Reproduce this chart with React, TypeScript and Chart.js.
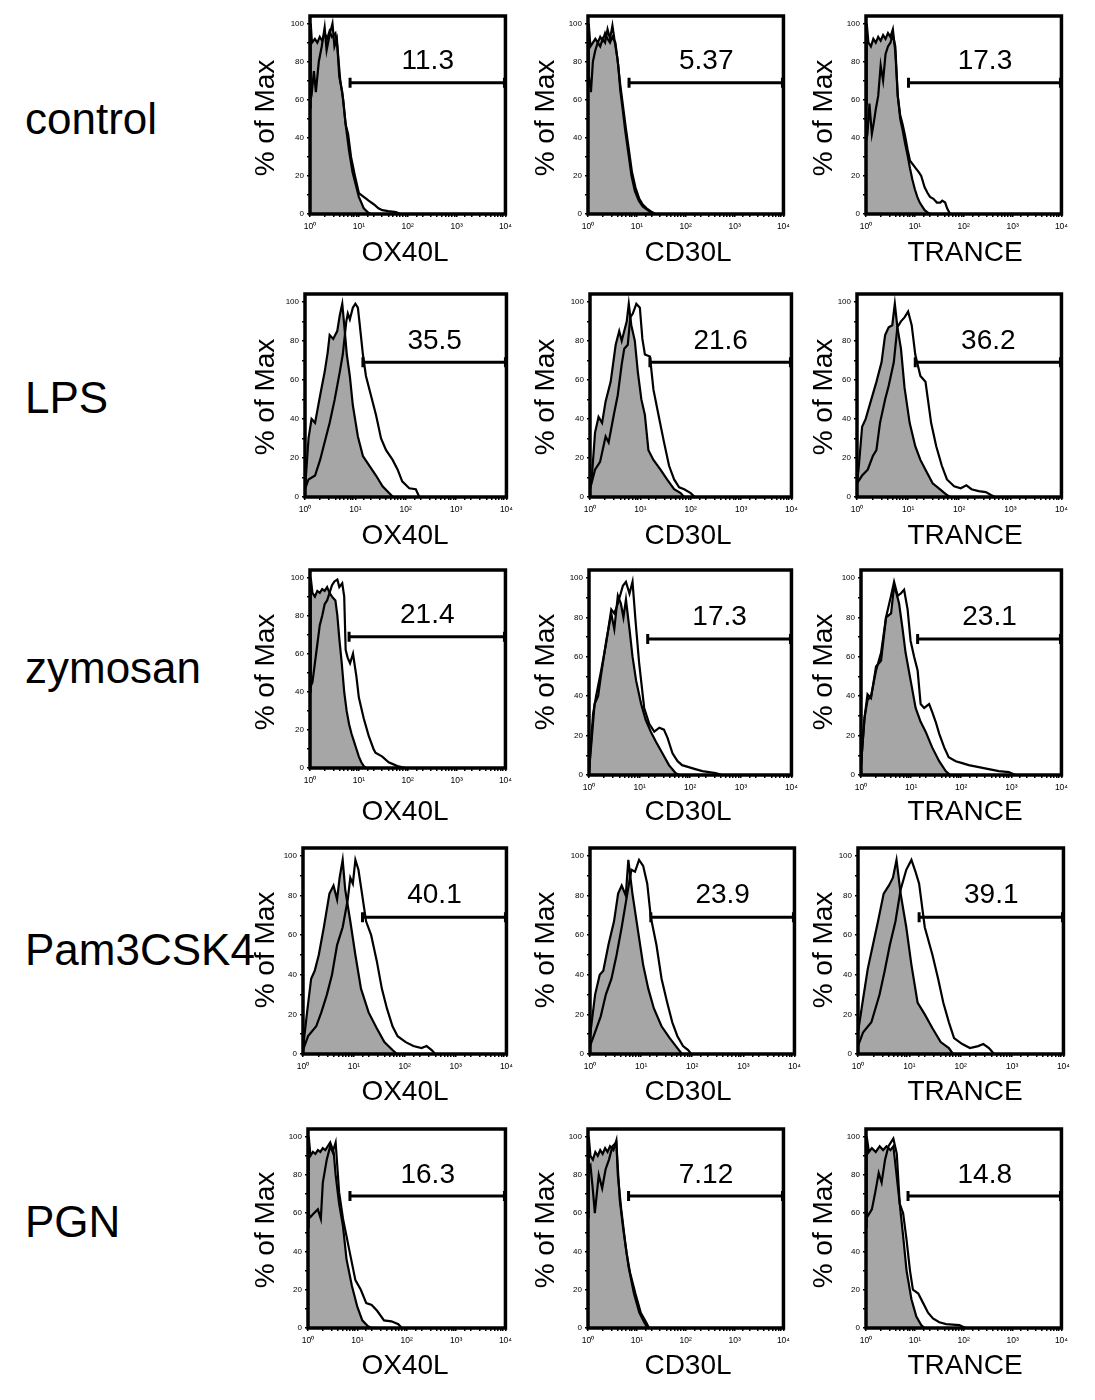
import React, { useEffect, useRef } from 'react';
import { Chart, registerables } from 'chart.js';

Chart.register(...registerables);

// ---------- labels ----------
const ROW_LABELS = ['control', 'LPS', 'zymosan', 'Pam3CSK4', 'PGN'];
const MARKERS = ['OX40L', 'CD30L', 'TRANCE'];
const Y_AXIS_TITLE = '% of Max';
const X_TICK_LABELS: Record<number, string> = { 1: '10⁰', 10: '10¹', 100: '10²', 1000: '10³', 10000: '10⁴' };

// gate: % positive (label) and left edge of the gate (log10 of intensity)
const GATE_LABELS = [
  ['11.3', '5.37', '17.3'],
  ['35.5', '21.6', '36.2'],
  ['21.4', '17.3', '23.1'],
  ['40.1', '23.9', '39.1'],
  ['16.3', '7.12', '14.8'],
];
const GATE_START_LOG = [
  [0.82, 0.84, 0.87],
  [1.15, 1.19, 1.14],
  [0.8, 1.16, 1.13],
  [1.17, 1.19, 1.19],
  [0.85, 0.83, 0.86],
];
const GATE_LEVEL = 69; // % of max
const GATE_TEXT_LEVEL = 80;

// ---------- histograms: [log10(intensity), % of max] ----------
// control
const CONTROL_OX40L_ISO = [[0,56],[0.015,100],[0.04,90],[0.1,92],[0.15,90],[0.2,93],[0.25,91],[0.3,95],[0.35,92],[0.4,96],[0.45,93],[0.52,95],[0.56,88],[0.62,70],[0.68,60],[0.73,47],[0.8,33],[0.87,22],[0.94,15],[1.0,9],[1.1,3],[1.2,0.5],[1.25,0]];
const CONTROL_OX40L_SMP = [[0,60],[0.03,62],[0.08,75],[0.12,64],[0.18,80],[0.24,88],[0.3,98],[0.34,86],[0.4,94],[0.46,100],[0.5,88],[0.55,92],[0.6,72],[0.66,64],[0.73,47],[0.78,42],[0.84,30],[0.92,20],[1.0,11],[1.1,9],[1.2,7],[1.31,5],[1.4,3],[1.48,2],[1.6,1.5],[1.76,1],[1.85,0]];
const CONTROL_CD30L_ISO = [[0,68],[0.015,100],[0.05,88],[0.1,90],[0.15,92],[0.2,90],[0.25,93],[0.3,91],[0.35,95],[0.4,92],[0.45,90],[0.5,93],[0.56,90],[0.62,78],[0.66,65],[0.71,55],[0.76,44],[0.82,33],[0.89,20],[0.96,12],[1.04,7],[1.12,4],[1.25,1.5],[1.32,0]];
const CONTROL_CD30L_SMP = [[0,68],[0.02,72],[0.06,64],[0.1,80],[0.15,86],[0.2,90],[0.25,88],[0.3,92],[0.35,90],[0.4,97],[0.45,92],[0.5,99],[0.55,90],[0.6,82],[0.66,68],[0.71,58],[0.77,46],[0.83,35],[0.9,22],[0.97,14],[1.05,8],[1.12,5],[1.2,3],[1.28,1.5],[1.38,0]];
const CONTROL_TRANCE_ISO = [[0,58],[0.015,100],[0.05,90],[0.1,88],[0.15,92],[0.2,90],[0.25,93],[0.3,91],[0.35,94],[0.4,92],[0.45,95],[0.5,93],[0.55,97],[0.6,85],[0.65,62],[0.7,50],[0.75,44],[0.8,37],[0.85,31],[0.9,24],[0.95,18],[1.0,13],[1.05,9],[1.1,6],[1.15,4],[1.2,2],[1.28,0.5],[1.32,0]];
const CONTROL_TRANCE_SMP = [[0,38],[0.03,42],[0.07,58],[0.12,42],[0.16,48],[0.2,55],[0.25,62],[0.3,78],[0.35,70],[0.4,84],[0.45,88],[0.5,90],[0.55,94],[0.6,88],[0.65,62],[0.7,52],[0.75,47],[0.8,41],[0.85,34],[0.9,28],[0.96,26],[1.02,24],[1.08,22],[1.13,20],[1.2,14],[1.26,11],[1.31,9],[1.38,8],[1.45,6],[1.52,6],[1.56,7],[1.62,6],[1.66,3],[1.72,0]];
// LPS
const LPS_OX40L_ISO = [[0,4],[0.03,15],[0.07,30],[0.13,40],[0.2,38],[0.25,45],[0.3,52],[0.39,64],[0.45,74],[0.49,83],[0.56,81],[0.64,85],[0.69,93],[0.74,99],[0.79,85],[0.83,73],[0.89,62],[0.95,47],[1.0,39],[1.05,31],[1.15,21],[1.28,16],[1.41,11],[1.54,5.5],[1.67,2],[1.75,0]];
const LPS_OX40L_SMP = [[0,4],[0.07,9],[0.2,11],[0.3,19],[0.39,28],[0.49,38],[0.59,50],[0.69,64],[0.75,73],[0.82,90],[0.85,94],[0.89,91],[0.95,97],[1.0,99],[1.05,97],[1.08,90],[1.15,73],[1.21,62],[1.31,52],[1.41,42],[1.51,30],[1.61,24],[1.74,19],[1.84,14],[1.93,8],[2.07,4.5],[2.2,4],[2.27,0]];
const LPS_CD30L_ISO = [[0,5],[0.03,8],[0.1,33],[0.17,41],[0.24,38],[0.31,49],[0.41,59],[0.51,78],[0.58,85],[0.63,80],[0.68,85],[0.73,90],[0.77,99],[0.82,88],[0.89,80],[0.95,64],[1.02,50],[1.09,42],[1.16,24],[1.26,19],[1.4,14],[1.53,9],[1.67,4],[1.8,2],[1.87,0]];
const LPS_CD30L_SMP = [[0,4],[0.1,14],[0.2,18],[0.31,31],[0.37,28],[0.48,43],[0.55,52],[0.63,68],[0.68,76],[0.75,78],[0.8,92],[0.85,94],[0.92,99],[0.99,97],[1.04,81],[1.09,73],[1.19,72],[1.26,55],[1.36,42],[1.47,28],[1.57,16],[1.67,9],[1.77,5],[1.87,4],[2.0,2],[2.08,0]];
const LPS_TRANCE_ISO = [[0,8],[0.03,14],[0.1,36],[0.17,40],[0.28,50],[0.38,59],[0.48,69],[0.55,83],[0.62,87],[0.69,88],[0.74,99],[0.79,87],[0.86,76],[0.93,56],[1.03,38],[1.14,26],[1.24,19],[1.34,14],[1.48,7],[1.62,4],[1.76,1],[1.82,0]];
const LPS_TRANCE_SMP = [[0,7],[0.1,11],[0.21,14],[0.31,21],[0.38,24],[0.45,38],[0.55,50],[0.62,57],[0.72,69],[0.79,87],[0.86,90],[0.93,92],[1.0,95],[1.07,88],[1.14,73],[1.24,62],[1.34,59],[1.45,38],[1.55,26],[1.66,16],[1.76,9],[1.9,5.5],[2.03,4.5],[2.14,6],[2.24,4],[2.38,3],[2.52,2.5],[2.62,1],[2.7,0]];
// zymosan
const ZYM_OX40L_ISO = [[0,40],[0.015,100],[0.05,92],[0.1,90],[0.15,93],[0.2,92],[0.25,94],[0.3,93],[0.35,95],[0.4,92],[0.45,90],[0.52,88],[0.56,80],[0.6,68],[0.65,55],[0.7,40],[0.75,30],[0.8,23],[0.85,18],[0.9,14],[0.95,10],[1.0,6],[1.05,3],[1.1,1],[1.15,0]];
const ZYM_OX40L_SMP = [[0,42],[0.05,45],[0.1,55],[0.15,65],[0.2,75],[0.25,80],[0.3,86],[0.35,88],[0.4,92],[0.45,96],[0.5,98],[0.56,99],[0.6,95],[0.66,97],[0.7,90],[0.73,62],[0.77,58],[0.82,55],[0.88,60],[0.95,48],[1.0,37],[1.1,26],[1.2,17],[1.3,10],[1.34,8],[1.48,6],[1.61,3],[1.79,1],[1.96,0]];
const ZYM_CD30L_ISO = [[0,2],[0.05,17],[0.11,36],[0.18,40],[0.24,51],[0.34,68],[0.44,82],[0.5,74],[0.57,91],[0.63,87],[0.68,80],[0.73,89],[0.8,74],[0.86,60],[0.93,48],[1.03,36],[1.12,28],[1.22,22],[1.32,17],[1.45,11],[1.58,5],[1.71,1],[1.78,0]];
const ZYM_CD30L_SMP = [[0,2],[0.08,31],[0.14,40],[0.24,53],[0.34,67],[0.44,84],[0.5,82],[0.57,87],[0.67,96],[0.73,98],[0.8,92],[0.86,98],[0.92,78],[0.99,57],[1.09,34],[1.19,26],[1.29,22],[1.39,24],[1.48,23],[1.55,19],[1.65,11],[1.75,7],[1.84,5],[1.97,4],[2.1,3],[2.24,2],[2.37,1.5],[2.5,1],[2.63,0]];
const ZYM_TRANCE_ISO = [[0,5],[0.07,29],[0.13,41],[0.2,39],[0.3,55],[0.4,58],[0.5,80],[0.6,82],[0.66,96],[0.71,92],[0.76,87],[0.83,74],[0.89,62],[0.99,48],[1.09,34],[1.19,27],[1.29,22],[1.42,14],[1.56,7],[1.69,2],[1.78,0]];
const ZYM_TRANCE_SMP = [[0,5],[0.07,29],[0.13,38],[0.2,40],[0.3,53],[0.4,62],[0.5,80],[0.6,91],[0.66,98],[0.73,91],[0.79,92],[0.86,94],[0.93,84],[0.99,68],[1.06,60],[1.13,53],[1.19,36],[1.26,34],[1.36,36],[1.42,32],[1.49,27],[1.56,21],[1.66,14],[1.75,9],[1.89,7],[2.02,6],[2.15,5],[2.35,4],[2.55,3],[2.75,2],[2.95,1.5],[3.08,0]];
// Pam3CSK4
const PAM_OX40L_ISO = [[0,3],[0.08,21],[0.16,38],[0.23,42],[0.31,50],[0.41,64],[0.52,81],[0.6,85],[0.67,78],[0.72,89],[0.78,98],[0.83,83],[0.93,67],[1.03,50],[1.14,33],[1.29,21],[1.45,13],[1.6,6],[1.76,2],[1.85,0]];
const PAM_OX40L_SMP = [[0,2],[0.1,9],[0.26,14],[0.36,21],[0.47,30],[0.57,40],[0.67,55],[0.78,64],[0.88,78],[0.93,89],[0.98,86],[1.03,98],[1.09,93],[1.16,81],[1.24,67],[1.34,60],[1.45,47],[1.55,33],[1.65,23],[1.76,14],[1.86,9],[2.02,6],[2.17,4],[2.33,3],[2.43,4],[2.53,2],[2.6,0]];
const PAM_CD30L_ISO = [[0,9],[0.1,30],[0.19,40],[0.26,42],[0.36,55],[0.47,67],[0.55,81],[0.62,85],[0.7,80],[0.75,98],[0.83,81],[0.94,62],[1.04,45],[1.14,33],[1.25,23],[1.4,14],[1.56,8],[1.71,3],[1.8,0]];
const PAM_CD30L_SMP = [[0,4],[0.1,11],[0.21,19],[0.31,30],[0.42,38],[0.52,50],[0.62,64],[0.73,81],[0.81,93],[0.88,92],[0.96,98],[1.04,95],[1.12,86],[1.19,69],[1.3,55],[1.4,38],[1.51,26],[1.61,16],[1.71,9],[1.82,4],[1.92,2],[1.98,0]];
const PAM_TRANCE_ISO = [[0,11],[0.1,28],[0.19,43],[0.29,55],[0.39,67],[0.5,81],[0.6,85],[0.68,89],[0.75,98],[0.83,81],[0.94,64],[1.04,45],[1.16,26],[1.3,20],[1.45,13],[1.61,6],[1.77,3],[1.85,0]];
const PAM_TRANCE_SMP = [[0,4],[0.1,11],[0.26,16],[0.42,30],[0.52,42],[0.62,55],[0.73,67],[0.83,83],[0.94,93],[1.04,98],[1.12,92],[1.19,86],[1.3,64],[1.45,50],[1.56,38],[1.66,26],[1.77,16],[1.87,8],[2.03,5],[2.18,3],[2.34,4],[2.44,5],[2.55,3],[2.65,0]];
// PGN
const PGN_OX40L_ISO = [[0,53],[0.015,100],[0.05,90],[0.1,92],[0.15,91],[0.2,93],[0.25,92],[0.3,94],[0.35,93],[0.45,97],[0.52,92],[0.56,80],[0.63,65],[0.71,53],[0.78,36],[0.89,22],[1.0,11],[1.1,4],[1.21,1],[1.28,0]];
const PGN_OX40L_SMP = [[0,60],[0.05,58],[0.12,60],[0.2,62],[0.26,57],[0.3,76],[0.38,88],[0.45,95],[0.5,92],[0.56,97],[0.63,71],[0.71,57],[0.78,48],[0.85,39],[0.96,25],[1.07,20],[1.18,13],[1.29,12],[1.4,9],[1.54,4],[1.69,3.5],[1.83,2],[1.9,0]];
const PGN_CD30L_ISO = [[0,58],[0.015,100],[0.05,90],[0.1,88],[0.15,92],[0.2,90],[0.25,93],[0.3,91],[0.35,94],[0.4,92],[0.45,95],[0.52,93],[0.58,98],[0.61,80],[0.68,62],[0.76,45],[0.83,32],[0.94,18],[1.05,8],[1.15,3],[1.22,0]];
const PGN_CD30L_SMP = [[0,83],[0.05,85],[0.1,72],[0.14,60],[0.22,80],[0.29,73],[0.36,83],[0.43,88],[0.5,95],[0.58,97],[0.65,67],[0.72,52],[0.79,39],[0.86,29],[0.97,18],[1.08,8],[1.19,3],[1.25,0]];
const PGN_TRANCE_ISO = [[0,53],[0.015,100],[0.06,92],[0.12,94],[0.2,92],[0.28,95],[0.35,93],[0.42,95],[0.5,93],[0.56,95],[0.63,79],[0.69,65],[0.76,48],[0.83,30],[0.93,15],[1.03,6],[1.13,1.5],[1.2,0]];
const PGN_TRANCE_SMP = [[0,57],[0.12,62],[0.19,71],[0.26,81],[0.32,76],[0.39,88],[0.46,95],[0.56,99],[0.63,91],[0.69,65],[0.76,60],[0.83,46],[0.9,30],[0.96,20],[1.07,18],[1.17,13],[1.27,8],[1.37,5],[1.5,3],[1.64,2],[1.91,1.5],[2.04,0]];

const ISOTYPE = [
  [CONTROL_OX40L_ISO, CONTROL_CD30L_ISO, CONTROL_TRANCE_ISO],
  [LPS_OX40L_ISO, LPS_CD30L_ISO, LPS_TRANCE_ISO],
  [ZYM_OX40L_ISO, ZYM_CD30L_ISO, ZYM_TRANCE_ISO],
  [PAM_OX40L_ISO, PAM_CD30L_ISO, PAM_TRANCE_ISO],
  [PGN_OX40L_ISO, PGN_CD30L_ISO, PGN_TRANCE_ISO],
];
const SAMPLE = [
  [CONTROL_OX40L_SMP, CONTROL_CD30L_SMP, CONTROL_TRANCE_SMP],
  [LPS_OX40L_SMP, LPS_CD30L_SMP, LPS_TRANCE_SMP],
  [ZYM_OX40L_SMP, ZYM_CD30L_SMP, ZYM_TRANCE_SMP],
  [PAM_OX40L_SMP, PAM_CD30L_SMP, PAM_TRANCE_SMP],
  [PGN_OX40L_SMP, PGN_CD30L_SMP, PGN_TRANCE_SMP],
];

// ---------- layout (pixels) ----------
// plot box per panel: [left, top, right, bottom]
const PANEL_BOXES = [
  [[310, 16, 507, 214], [588, 16, 785, 214], [866, 16, 1063, 214]],
  [[305, 294, 508, 497], [590, 294, 793, 497], [857, 294, 1063, 497]],
  [[310, 570, 507, 768], [589, 570, 793, 775], [861, 570, 1063, 775]],
  [[303, 848, 508, 1054], [590, 848, 796, 1054], [858, 848, 1065, 1054]],
  [[308, 1129, 507, 1328], [588, 1129, 785, 1328], [866, 1129, 1063, 1328]],
];
const ROW_LABEL_BASELINE = [134, 413, 683, 965, 1237];
const Y_TITLE_X = [265, 545, 823];
const Y_TITLE_Y = [118, 397, 672, 950, 1230];
const X_TITLE_X = [405, 688, 965];
const X_TITLE_Y = [252, 535, 811, 1091, 1365];

const FONT = '"Liberation Sans", Arial, sans-serif';
const PAD_L = 70, PAD_T = 10, PAD_R = 10, PAD_B = 55;
const Y_MAX = 104;
const ROW_FONT = 44;

const panelPlugin = {
  id: 'panelDecor',
  afterDatasetsDraw(chart: any, _args: any, opts: any) {
    const { ctx, chartArea, scales } = chart;
    const { left, top, right, bottom } = chartArea;
    ctx.save();
    // gate
    const gx = scales.x.getPixelForValue(Math.pow(10, opts.gateLog));
    const gy = scales.y.getPixelForValue(GATE_LEVEL);
    ctx.strokeStyle = '#000';
    ctx.lineWidth = 3;
    ctx.beginPath();
    ctx.moveTo(gx, gy);
    ctx.lineTo(right, gy);
    ctx.stroke();
    ctx.beginPath();
    ctx.moveTo(gx, gy - 5);
    ctx.lineTo(gx, gy + 5);
    ctx.moveTo(right - 1, gy - 5);
    ctx.lineTo(right - 1, gy + 5);
    ctx.stroke();
    ctx.fillStyle = '#000';
    ctx.font = `28px ${FONT}`;
    ctx.textAlign = 'center';
    ctx.textBaseline = 'middle';
    ctx.fillText(opts.gateLabel, (gx + right) / 2, scales.y.getPixelForValue(GATE_TEXT_LEVEL));
    // frame
    ctx.lineWidth = 3.5;
    ctx.strokeRect(left, top, right - left, bottom - top);
    ctx.restore();
  },
};

function Panel({ row, col }: { row: number; col: number }) {
  const ref = useRef<HTMLCanvasElement>(null);
  const [L, T, R, B] = PANEL_BOXES[row][col];
  const w = R - L + PAD_L + PAD_R;
  const h = B - T + PAD_T + PAD_B;
  useEffect(() => {
    if (!ref.current) return;
    const toPts = (arr: number[][]) => arr.map(([e, y]) => ({ x: Math.pow(10, e), y }));
    const chart = new Chart(ref.current, {
      type: 'line',
      data: {
        datasets: [
          {
            data: toPts(SAMPLE[row][col]),
            borderColor: '#000',
            borderWidth: 2.2,
            fill: false,
            pointRadius: 0,
            tension: 0,
            order: 0,
          },
          {
            data: toPts(ISOTYPE[row][col]),
            borderColor: '#000',
            borderWidth: 2.2,
            backgroundColor: '#a6a6a6',
            fill: 'origin',
            pointRadius: 0,
            tension: 0,
            order: 1,
          },
        ],
      } as any,
      options: {
        animation: false,
        responsive: false,
        events: [],
        layout: { padding: { left: 0, top: PAD_T, right: PAD_R, bottom: 0 } },
        plugins: {
          legend: { display: false },
          tooltip: { enabled: false },
          panelDecor: { gateLog: GATE_START_LOG[row][col], gateLabel: GATE_LABELS[row][col] },
        } as any,
        scales: {
          x: {
            type: 'logarithmic',
            min: 1,
            max: 10000,
            afterFit: (s: any) => { s.height = PAD_B; },
            border: { display: false },
            grid: { display: true, drawOnChartArea: false, drawTicks: true, tickLength: 3, color: '#000', lineWidth: 1.5 },
            ticks: {
              autoSkip: false,
              maxRotation: 0,
              minRotation: 0,
              padding: 5,
              color: '#000',
              font: { size: 8.5, family: FONT },
              callback: (v: any) => X_TICK_LABELS[Math.round(Number(v))] ?? '',
            },
          },
          y: {
            min: 0,
            max: Y_MAX,
            afterFit: (s: any) => { s.width = PAD_L; },
            border: { display: false },
            grid: { display: true, drawOnChartArea: false, drawTicks: true, tickLength: 3, color: '#000', lineWidth: 1.5 },
            ticks: {
              stepSize: 5,
              includeBounds: false,
              padding: 3,
              color: '#000',
              font: { size: 8, family: FONT },
              callback: (v: any) => (Number(v) % 20 === 0 ? String(v) : ''),
            },
          },
        } as any,
      },
      plugins: [panelPlugin],
    });
    return () => chart.destroy();
  }, [row, col]);
  return (
    <canvas
      ref={ref}
      width={w}
      height={h}
      style={{ position: 'absolute', left: L - PAD_L, top: T - PAD_T, width: w, height: h, zIndex: 2 }}
    />
  );
}

export default function App() {
  const text: React.CSSProperties = { position: 'absolute', fontFamily: FONT, color: '#000', whiteSpace: 'nowrap', lineHeight: 1 };
  return (
    <div style={{ position: 'absolute', left: 0, top: 0, width: 1095, height: 1400, background: '#fff', overflow: 'hidden' }}>
      {ROW_LABELS.map((lab, r) => (
        <div key={'r' + r} style={{ ...text, left: 25, top: ROW_LABEL_BASELINE[r] - 0.8465 * ROW_FONT, fontSize: ROW_FONT, zIndex: 1 }}>
          {lab}
        </div>
      ))}
      {ROW_LABELS.map((_, r) =>
        MARKERS.map((m, c) => (
          <React.Fragment key={`p${r}${c}`}>
            <Panel row={r} col={c} />
            <div
              style={{
                ...text,
                fontSize: 28,
                left: Y_TITLE_X[c],
                top: Y_TITLE_Y[r],
                transform: 'translate(-50%, -50%) rotate(-90deg)',
                zIndex: 3,
              }}
            >
              {Y_AXIS_TITLE}
            </div>
            <div style={{ ...text, fontSize: 28, left: X_TITLE_X[c], top: X_TITLE_Y[r], transform: 'translate(-50%, -50%)', zIndex: 3 }}>
              {m}
            </div>
          </React.Fragment>
        ))
      )}
    </div>
  );
}
